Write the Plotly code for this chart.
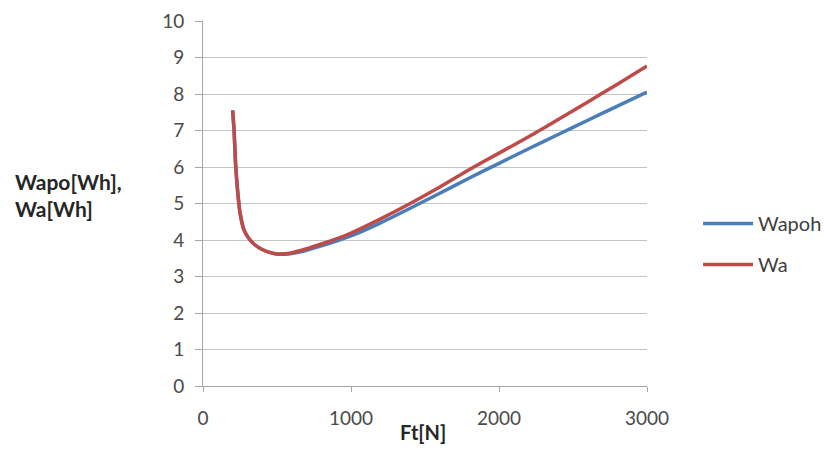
import plotly.graph_objects as go

ft = [200, 210, 220, 235, 250, 275, 300, 325, 350, 400, 450, 500, 550, 600, 700, 800, 900, 1000,
      1200, 1400, 1600, 1800, 2000, 2200, 2400, 2600, 2800, 3000]
wapoh = [7.55, 7.0, 6.1, 5.3, 4.75, 4.3, 4.1, 3.97, 3.87, 3.74, 3.66, 3.61, 3.61, 3.63, 3.72, 3.84, 3.97, 4.11,
         4.47, 4.87, 5.28, 5.70, 6.10, 6.50, 6.89, 7.28, 7.67, 8.05]
wa = [7.55, 7.0, 6.1, 5.3, 4.75, 4.3, 4.1, 3.97, 3.87, 3.74, 3.66, 3.62, 3.62, 3.65, 3.76, 3.89, 4.03, 4.19,
      4.58, 5.00, 5.45, 5.93, 6.38, 6.83, 7.30, 7.78, 8.27, 8.77]

x_ticks = [0, 1000, 2000, 3000]
y_ticks = list(range(0, 11))

FONT = "Lato, 'Open Sans', sans-serif"
TICK_COLOR = "#4a4a4a"

fig = go.Figure()
fig.add_trace(go.Scatter(x=ft, y=wapoh, name="Wapoh", mode="lines", legendgroup="a",
                         line=dict(color="#4A7EBB", width=3.5, shape="spline", smoothing=0.6)))
fig.add_trace(go.Scatter(x=ft, y=wa, name="Wa", mode="lines", legendgroup="b",
                         line=dict(color="#BE4B48", width=3.5, shape="spline", smoothing=0.6)))

fig.update_layout(
    width=824, height=464,
    margin=dict(l=203, r=177, t=21, b=78, autoexpand=False),
    paper_bgcolor="white", plot_bgcolor="white",
    font=dict(family=FONT, size=19, color=TICK_COLOR),
    showlegend=True,
    legend=dict(x=1.115, xanchor="left", xref="paper", y=(386 - 244) / 365, yanchor="middle",
                font=dict(family=FONT, size=20, color="#404040"),
                tracegroupgap=12, itemwidth=50, bgcolor="rgba(0,0,0,0)"),
    xaxis=dict(range=[0, 3000], tickvals=x_ticks, ticktext=[str(v) for v in x_ticks],
               showgrid=False, zeroline=False, showline=True, linecolor="#A6A6A6", linewidth=1,
               ticks="outside", ticklen=5, tickcolor="#A6A6A6",
               tickfont=dict(family=FONT, size=19, color=TICK_COLOR), ticklabelstandoff=10),
    yaxis=dict(range=[0, 10], tickvals=y_ticks, ticktext=[str(v) for v in y_ticks],
               showgrid=True, gridcolor="#C4C4C4", gridwidth=1, zeroline=False,
               showline=True, linecolor="#A6A6A6", linewidth=1,
               ticks="outside", ticklen=7, tickcolor="#A6A6A6",
               tickfont=dict(family=FONT, size=19, color=TICK_COLOR), ticklabelstandoff=7),
    annotations=[
        dict(text="<b>Wapo[Wh],<br>Wa[Wh]</b>", xref="paper", yref="paper",
             x=-203 / 444 + 13 / 444, y=(386 - 195) / 365, xanchor="left", yanchor="middle",
             showarrow=False, align="left",
             font=dict(family=FONT, size=21, color="#262626")),
        dict(text="<b>Ft[N]</b>", xref="paper", yref="paper",
             x=(423 - 203) / 444, y=-(432 - 386) / 365, xanchor="center", yanchor="middle",
             showarrow=False, font=dict(family=FONT, size=20, color="#262626")),
    ],
)

fig.write_html("out.html")
